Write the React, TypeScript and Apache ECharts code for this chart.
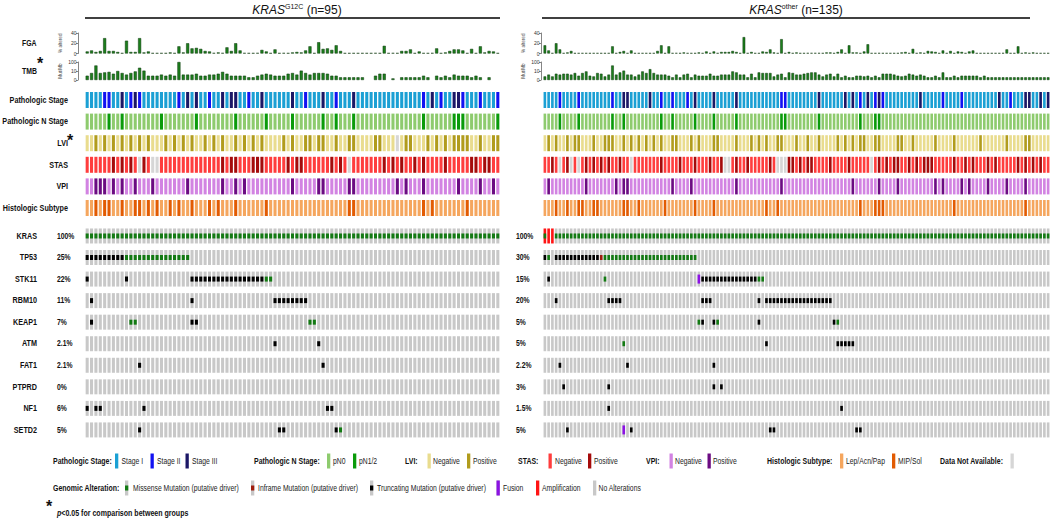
import { useEffect, useRef } from "react";
import * as echarts from "echarts";

const N_LEFT = 95;
const N_RIGHT = 135;

const TRACKS = ["Pathologic Stage", "Pathologic N Stage", "LVI", "STAS", "VPI", "Histologic Subtype"];
const GENES = ["KRAS", "TP53", "STK11", "RBM10", "KEAP1", "ATM", "FAT1", "PTPRD", "NF1", "SETD2"];
const PCT_LEFT = ["100%", "25%", "22%", "11%", "7%", "2.1%", "2.1%", "0%", "6%", "5%"];
const PCT_RIGHT = ["100%", "30%", "15%", "20%", "5%", "5%", "2.2%", "3%", "1.5%", "5%"];

// Fraction genome altered (%) per sample
const FGA_LEFT = [
  4, 6, 3, 5, 30, 5, 5, 3, 0.8, 25, 3, 3, 30, 2, 4, 0.8, 0.8, 0.8, 0.8, 2,
  0.8, 14, 2, 20, 10, 11, 9, 5, 4, 1, 2, 1, 12, 5, 20, 6, 1, 0.8, 0.8, 1,
  7, 4, 0.8, 8, 0.8, 1, 0.8, 2, 3, 2, 6, 14, 0.8, 22, 9, 10, 7, 16, 5, 0.8,
  0.8, 0.8, 0.8, 0.8, 0.8, 0.8, 1, 0.8, 15, 0.8, 1, 0.8, 5, 5, 8, 0.8, 4, 0.8, 0.8, 1,
  10, 0.8, 2, 5, 8, 8, 6, 0.8, 9, 0.8, 14, 2, 5, 4, 0.8,
];
// Tumour mutational burden (mut/Mb) per sample, null = not available
const TMB_LEFT = [
  2, 5, 40, 5, 6, 7, 4, 9, 5, 3, 5, 8, 22, 10, 2, 2, 2, 3, 2, 3,
  2, 99, 3, 3, 3, 4, 2, 2, 3, 3, 4, 7, 4, 2, 2, 2, 2, 1, 1, 2,
  3, 4, 3, 2, 2, 2, 4, 5, 3, 10, 5, 3, 5, 5, 5, 4, 2, 2, 1, 1,
  1, 1, 1, 1, null, null, 2, 4, 4, null, 0.5, null, 1, 1, 1, 1, 1, 2, 1, null,
  2, 1, 2, 1, 3, 2, 2, 2, 1, 2, 1, null, 1, null, null,
];
const FGA_RIGHT = [
  16, 6, 0.8, 20, 8, 0.8, 2, 5, 0.8, 0.8, 0.8, 0.8, 0.8, 0.8, 0.8, 0.8, 0.8, 0.8, 14, 0.8,
  3, 5, 0.8, 6, 0.8, 0.8, 0.8, 0.8, 0.8, 0.8, 5, 16, 0.8, 14, 0.8, 1, 0.8, 2, 0.8, 0.8,
  0.8, 2, 0.8, 4, 0.8, 4, 0.8, 3, 3, 3, 5, 3, 0.8, 32, 0.8, 3, 0.8, 0.8, 4, 3,
  8, 2, 0.8, 28, 0.8, 3, 0.8, 2, 0.8, 0.8, 1, 1, 1, 1, 0.8, 2, 2, 0.8, 3, 8,
  0.8, 16, 2, 2, 0.8, 4, 18, 0.8, 0.8, 1, 0.8, 0.8, 0.8, 0.8, 0.8, 2, 3, 0.8, 9, 0.8,
  2, 0.8, 5, 4, 3, 0.8, 6, 0.8, 5, 0.8, 4, 3, 0.8, 4, 6, 0.8, 0.8, 0.8, 0.8, 0.8,
  0.8, 0.8, 1, 8, 0.8, 0.8, 14, 0.8, 2, 0.8, 2, 0.8, 0.8, 0.8, 0.8,
];
const TMB_RIGHT = [
  1.5, 3, 1.5, 4, 3, 4, 4, 3, 5, 2, 5, 8, 2, 1.5, 5, 4, 1.5, 3, 40, 3,
  6, 10, 3, 3, 1.5, 3, 8, 5, 15, 5, 3, 3, 3, 2, 1, 3, 1, 3, 4, 1,
  3, 2, 2, 2, 4, 2, 2, 3, 3, 3, 8, 6, 3, 3, 1, 4, 1, 6, 5, 5,
  5, 1.5, 3, 4, 1, 6, 5, 3, 3, 4, 5, 6, 6, 3, 1.5, 3, 4, 1.5, 4, 1,
  2, 1, 1, 2, 2, 1.5, 2, 1, 2, 1, 4, 4, 4, 3, 2, 1.5, 2, 4, 3, 2,
  3, 2, 1, 1, 2, 1, 6, 1, 1, 2, 1, 2, 2, 2, 2, 2, 1, 2, 1, 1,
  1, 1, 1, 1, 1, 1, 1, 1, 1, 1, 1, 1, 1, 1, 1,
];

// Clinical tracks: sample indices of non-baseline categories
const STAGE2_LEFT = [4, 5, 10, 12, 21, 28, 37, 50, 57, 77, 81, 86, 90, 94];
const STAGE3_LEFT = [8, 11, 23, 25, 31, 33, 34, 40, 47, 54, 61, 79, 84, 85];
const NPOS_LEFT = [5, 8, 17, 25, 34, 41, 47, 54, 57, 61, 77, 84, 85, 86, 94];
const LVI_POS_LEFT = [2, 4, 6, 8, 10, 12, 14, 18, 20, 22, 24, 27, 29, 31, 34, 36, 38, 40, 45, 47, 50, 51, 53, 54, 57, 60, 61, 66, 67, 73, 74, 78, 80, 82, 84, 85, 86, 87, 90, 93, 94];
const LVI_NA_LEFT = [71];
const STAS_POS_LEFT = [6, 8, 10, 13, 31, 33, 34, 38, 39, 40, 46, 48, 49, 56, 58, 68, 70, 72, 75, 77, 82, 88, 89, 91, 92];
const STAS_NA_LEFT = [12, 15, 16, 60];
const VPI_POS_LEFT = [2, 3, 4, 6, 8, 11, 15, 23, 31, 34, 36, 47, 53, 54, 60, 61, 71, 73, 77, 85, 90, 93];
const HIST_POS_LEFT = [2, 4, 5, 8, 11, 12, 14, 16, 19, 21, 24, 28, 30, 34, 41, 60, 61, 77, 79, 87];

const STAGE2_RIGHT = [4, 9, 18, 31, 34, 38, 63, 64, 84, 88, 90, 106, 111, 124];
const STAGE3_RIGHT = [21, 22, 28, 40, 45, 51, 73, 80, 82, 86, 89, 100, 121, 128, 129, 132, 134];
const NPOS_RIGHT = [4, 9, 18, 21, 31, 34, 40, 45, 51, 63, 64, 73, 84, 88, 89];
const LVI_POS_RIGHT = [1, 3, 6, 8, 9, 13, 16, 17, 18, 21, 23, 25, 27, 29, 31, 34, 35, 39, 41, 45, 46, 51, 55, 57, 59, 62, 63, 67, 70, 73, 78, 80, 82, 84, 85, 88, 89, 94, 95, 98, 104, 109, 116, 123, 128, 129];
const STAS_POS_RIGHT = [2, 6, 11, 13, 15, 17, 20, 31, 36, 40, 44, 47, 51, 54, 60, 65, 66, 68, 70, 71, 76, 81, 89, 91, 93, 94, 97, 99, 101, 102, 103, 109, 112, 114, 118, 120, 126, 128, 130, 132];
const STAS_NA_RIGHT = [4, 7, 9, 23, 48, 49, 62, 63, 64, 87];
const VPI_POS_RIGHT = [1, 11, 19, 21, 22, 34, 39, 51, 63, 82, 89, 94, 104, 106, 111, 113, 118, 123, 128];
const HIST_POS_RIGHT = [3, 6, 9, 10, 13, 14, 21, 22, 25, 32, 40, 45, 59, 62, 84, 88, 89, 90, 109, 128];

const run = (a: number, b: number) => {
  const r: number[] = [];
  for (let i = a; i <= b; i++) r.push(i);
  return r;
};

type Alt = { mis?: number[]; inf?: number[]; trunc?: number[]; fus?: number[]; amp?: number[] };

const ALT_LEFT: Alt[] = [
  { mis: run(0, 94) },
  { trunc: run(0, 8), mis: run(9, 23) },
  { trunc: [0, 9, ...run(24, 40)], mis: [41, 42] },
  { trunc: [1, 24, ...run(43, 50)] },
  { trunc: [1, 24, 25], mis: [10, 11, 51, 52] },
  { trunc: [43, 53] },
  { trunc: [12, 54] },
  {},
  { trunc: [0, 2, 3, 13, 55, 56] },
  { trunc: [12, 44, 45, 57], mis: [58] },
];
const ALT_RIGHT: Alt[] = [
  { mis: [0, ...run(3, 134)], amp: [0, 1, 2] },
  { trunc: [0, ...run(3, 14)], mis: [1, ...run(16, 40)], inf: [15] },
  { trunc: [1, ...run(42, 56)], mis: [16, 57, 58], fus: [41] },
  { trunc: [3, 17, 18, 19, 20, 42, 43, 44, 57, ...run(59, 76)] },
  { trunc: [42, 45, 57, 77], mis: [41, 46, 78] },
  { trunc: [59, ...run(78, 82)], mis: [21] },
  { trunc: [4, 22, 45] },
  { trunc: [5, 17, 45, 47] },
  { trunc: [17, 79] },
  { trunc: [6, 23, 60, 61, 83, 84], fus: [21] },
];

const CLIN_COLORS = [
  ["#1ba0d4", "#1212f2", "#1b1766"],
  ["#8ecb6e", "#0a9b0a"],
  ["#e9dc8e", "#b19c1d"],
  ["#ff3d3d", "#a50b0b"],
  ["#d283e2", "#6b0b82"],
  ["#f5a65e", "#e25b02"],
];
const NA_COLOR = "#d6d6d6";
const GRAY = "#c8c8c8";
const ALT_COLORS: Record<number, string> = { 1: "#137a13", 2: "#9e1d0d", 3: "#000000", 4: "#8b12e3" };
const AMP_COLOR = "#ff1414";
const BAR_COLOR = "#1c7f1c";

const FONT = "'Liberation Sans', Arial, sans-serif";
const NARROW = 0.82;

function clinCodes(n: number, pos: number[], pos2: number[] = [], na: number[] = []) {
  const a = new Array(n).fill(0);
  pos.forEach((i) => (a[i] = 1));
  pos2.forEach((i) => (a[i] = 2));
  na.forEach((i) => (a[i] = 9));
  return a;
}

function geneCodes(n: number, alt: Alt) {
  const a = new Array(n).fill(0);
  (alt.mis || []).forEach((i) => (a[i] = 1));
  (alt.inf || []).forEach((i) => (a[i] = 2));
  (alt.trunc || []).forEach((i) => (a[i] = 3));
  (alt.fus || []).forEach((i) => (a[i] = 4));
  (alt.amp || []).forEach((i) => (a[i] = a[i] === 1 ? 6 : 5));
  return a;
}

function cellData(n: number, tracks: number[][]) {
  const d: number[][] = [];
  tracks.forEach((codes, t) => codes.forEach((c, i) => d.push([i, t, c])));
  return d;
}

const CLIN_LEFT = [
  clinCodes(N_LEFT, STAGE2_LEFT, STAGE3_LEFT),
  clinCodes(N_LEFT, NPOS_LEFT),
  clinCodes(N_LEFT, LVI_POS_LEFT, [], LVI_NA_LEFT),
  clinCodes(N_LEFT, STAS_POS_LEFT, [], STAS_NA_LEFT),
  clinCodes(N_LEFT, VPI_POS_LEFT),
  clinCodes(N_LEFT, HIST_POS_LEFT),
];
const CLIN_RIGHT = [
  clinCodes(N_RIGHT, STAGE2_RIGHT, STAGE3_RIGHT),
  clinCodes(N_RIGHT, NPOS_RIGHT),
  clinCodes(N_RIGHT, LVI_POS_RIGHT),
  clinCodes(N_RIGHT, STAS_POS_RIGHT, [], STAS_NA_RIGHT),
  clinCodes(N_RIGHT, VPI_POS_RIGHT),
  clinCodes(N_RIGHT, HIST_POS_RIGHT),
];

const clinRender = (_p: any, api: any) => {
  const i = api.value(0), t = api.value(1), code = api.value(2);
  const c = api.coord([i, t]);
  const s = api.size([1, 1]);
  const w = s[0] * 0.7, h = 16;
  const fill = code === 9 ? NA_COLOR : CLIN_COLORS[t][code];
  return { type: "rect", shape: { x: c[0] - w / 2, y: c[1] - h / 2, width: w, height: h }, style: { fill } };
};

const geneRender = (_p: any, api: any) => {
  const i = api.value(0), g = api.value(1), code = api.value(2);
  const c = api.coord([i, g]);
  const s = api.size([1, 1]);
  const w = s[0] * 0.7, h = 15;
  const x0 = c[0] - w / 2, y0 = c[1] - h / 2;
  const children: any[] = [
    { type: "rect", shape: { x: x0, y: y0, width: w, height: h }, style: { fill: code >= 5 ? AMP_COLOR : GRAY } },
  ];
  if (code === 1 || code === 2 || code === 3 || code === 6) {
    const col = ALT_COLORS[code === 6 ? 1 : code];
    children.push({ type: "rect", shape: { x: x0, y: c[1] - h / 6, width: w, height: h / 3 }, style: { fill: col } });
  } else if (code === 4) {
    children.push({ type: "rect", shape: { x: x0, y: c[1] - h * 0.3, width: w, height: h * 0.6 }, style: { fill: ALT_COLORS[4] } });
  }
  return { type: "group", children };
};

function text(x: number, y: number, t: string, o: any = {}, sx = NARROW) {
  return {
    type: "text",
    silent: true,
    x, y, scaleX: sx,
    style: {
      x: 0, y: 0, text: t,
      fontFamily: FONT, fontSize: 8.8, fontWeight: "bold", fill: "#111",
      align: "left", verticalAlign: "middle", textAlign: "left", textVerticalAlign: "middle",
      ...o,
    },
  };
}
function swatch(x: number, y: number, fill: string, inner?: string, innerH = 5) {
  const els: any[] = [{ type: "rect", silent: true, shape: { x, y: y - 7.5, width: 3.3, height: 15 }, style: { fill } }];
  if (inner) els.push({ type: "rect", silent: true, shape: { x, y: y - innerH / 2, width: 3.3, height: innerH }, style: { fill: inner } });
  return els;
}

function buildOption() {
  const P = [
    { left: 85, width: 415, n: N_LEFT, fga: FGA_LEFT, tmb: TMB_LEFT, clin: CLIN_LEFT, alt: ALT_LEFT, off: 7 },
    { left: 543, width: 507, n: N_RIGHT, fga: FGA_RIGHT, tmb: TMB_RIGHT, clin: CLIN_RIGHT, alt: ALT_RIGHT, off: 2 },
  ];
  const grid: any[] = [], xAxis: any[] = [], yAxis: any[] = [], series: any[] = [];
  const axLabel = { fontSize: 5, margin: 1.5, color: "#333", fontFamily: FONT };
  P.forEach((p, k) => {
    const cats = Array.from({ length: p.n }, (_, i) => String(i));
    const tops = [
      [33, 20.5],
      [62, 18],
      [89.2, 129.6],
      [225.2, 215.5],
    ];
    tops.forEach(([top, height], j) => {
      const gi = k * 4 + j;
      grid.push({ left: p.left, width: p.width, top, height });
      xAxis.push({ type: "category", gridIndex: gi, data: cats, show: false });
    });
    const common = {
      type: "value", offset: p.off, axisLine: { show: true, lineStyle: { color: "#333", width: 0.6 } },
      axisTick: { show: true, length: 2, lineStyle: { color: "#333", width: 0.6 } },
      splitLine: { show: false }, nameLocation: "middle", nameRotate: 90, nameGap: 15,
      nameTextStyle: { fontSize: 4.6, color: "#444", fontFamily: FONT },
    };
    yAxis.push({ ...common, gridIndex: k * 4, min: 0, max: 40, interval: 20, name: "% altered", axisLabel: axLabel });
    yAxis.push({
      ...common, gridIndex: k * 4 + 1, min: 0, max: 2, interval: 1, name: "Mut/Mb",
      axisLabel: { ...axLabel, formatter: (v: number) => (v === 0 ? "0" : v === 1 ? "10" : "100") },
    });
    yAxis.push({ type: "category", gridIndex: k * 4 + 2, data: TRACKS, inverse: true, show: false });
    yAxis.push({ type: "category", gridIndex: k * 4 + 3, data: GENES, inverse: true, show: false });

    const barStyle = { color: BAR_COLOR, borderColor: "#0a350a", borderWidth: 0.5 };
    series.push({ type: "bar", xAxisIndex: k * 4, yAxisIndex: k * 4, data: p.fga, barWidth: "70%", itemStyle: barStyle, silent: true });
    series.push({
      type: "bar", xAxisIndex: k * 4 + 1, yAxisIndex: k * 4 + 1, barWidth: "70%", itemStyle: barStyle, silent: true,
      data: p.tmb.map((v) => (v == null ? null : Math.log10(v + 1))),
    });
    series.push({
      type: "custom", xAxisIndex: k * 4 + 2, yAxisIndex: k * 4 + 2, renderItem: clinRender, silent: true,
      data: cellData(p.n, p.clin),
    });
    series.push({
      type: "custom", xAxisIndex: k * 4 + 3, yAxisIndex: k * 4 + 3, renderItem: geneRender, silent: true,
      data: cellData(p.n, p.alt.map((a) => geneCodes(p.n, a))),
    });
  });

  const g: any[] = [];
  const titleRich = {
    i: { fontStyle: "italic", fontSize: 12, fontFamily: FONT, lineHeight: 14, fill: "#111" },
    s: { fontSize: 7, fontFamily: FONT, lineHeight: 8, verticalAlign: "top", fill: "#111" },
    n: { fontSize: 12, fontFamily: FONT, lineHeight: 14, fill: "#111" },
  };
  g.push({ type: "text", silent: true, style: { x: 297, y: 10, text: "{i|KRAS}{s|G12C}{n| (n=95)}", rich: titleRich, align: "center", verticalAlign: "middle", textAlign: "center", textVerticalAlign: "middle" } });
  g.push({ type: "text", silent: true, style: { x: 796, y: 10, text: "{i|KRAS}{s|other}{n| (n=135)}", rich: titleRich, align: "center", verticalAlign: "middle", textAlign: "center", textVerticalAlign: "middle" } });
  g.push({ type: "line", silent: true, shape: { x1: 85, y1: 18, x2: 500, y2: 18 }, style: { stroke: "#000", lineWidth: 1.4 } });
  g.push({ type: "line", silent: true, shape: { x1: 542, y1: 18, x2: 1030, y2: 18 }, style: { stroke: "#000", lineWidth: 1.4 } });

  g.push(text(22, 43.5, "FGA", { fontSize: 8.4 }));
  g.push(text(22, 71.5, "TMB", { fontSize: 8.4 }));
  g.push(text(37, 63, "*", { fontSize: 16 }, 1));
  const clinY = [100, 121.6, 143.2, 164.8, 186.4, 208];
  TRACKS.forEach((t, j) => g.push(text(68, clinY[j], t, { align: "right", textAlign: "right" })));
  g.push(text(67, 140, "*", { fontSize: 16 }, 1));
  GENES.forEach((gn, j) => {
    const y = 236 + j * 21.55;
    g.push(text(37, y, gn, { align: "right", textAlign: "right" }));
    g.push(text(57, y, PCT_LEFT[j], { fontSize: 8.3 }));
    g.push(text(516, y, PCT_RIGHT[j], { fontSize: 8.3 }));
  });

  // legend row 1
  const y1 = 461, y2 = 488;
  const reg = { fontWeight: "normal", fontSize: 8.3, fill: "#222" };
  const hd = { fontSize: 8.5 };
  g.push(text(53, y1, "Pathologic Stage:", hd));
  g.push(...swatch(115, y1, CLIN_COLORS[0][0]), text(121.5, y1, "Stage I", reg));
  g.push(...swatch(150.5, y1, CLIN_COLORS[0][1]), text(157, y1, "Stage II", reg));
  g.push(...swatch(185.5, y1, CLIN_COLORS[0][2]), text(192, y1, "Stage III", reg));
  g.push(text(254, y1, "Pathologic N Stage:", hd));
  g.push(...swatch(327, y1, CLIN_COLORS[1][0]), text(333, y1, "pN0", reg));
  g.push(...swatch(353, y1, CLIN_COLORS[1][1]), text(359, y1, "pN1/2", reg));
  g.push(text(405, y1, "LVI:", hd));
  g.push(...swatch(427.5, y1, CLIN_COLORS[2][0]), text(433, y1, "Negative", reg));
  g.push(...swatch(467, y1, CLIN_COLORS[2][1]), text(473, y1, "Positive", reg));
  g.push(text(518, y1, "STAS:", hd));
  g.push(...swatch(548.5, y1, CLIN_COLORS[3][0]), text(555, y1, "Negative", reg));
  g.push(...swatch(588, y1, CLIN_COLORS[3][1]), text(594, y1, "Positive", reg));
  g.push(text(646, y1, "VPI:", hd));
  g.push(...swatch(669.5, y1, CLIN_COLORS[4][0]), text(675, y1, "Negative", reg));
  g.push(...swatch(707.5, y1, CLIN_COLORS[4][1]), text(713, y1, "Positive", reg));
  g.push(text(767, y1, "Histologic Subtype:", hd));
  g.push(...swatch(840, y1, CLIN_COLORS[5][0]), text(846, y1, "Lep/Acn/Pap", reg));
  g.push(...swatch(892, y1, CLIN_COLORS[5][1]), text(898, y1, "MIP/Sol", reg));
  g.push(text(940, y1, "Data Not Available:", hd));
  g.push(...swatch(1010.5, y1, NA_COLOR));

  // legend row 2
  g.push(text(53, y2, "Genomic Alteration:", hd));
  g.push(...swatch(125, y2, GRAY, ALT_COLORS[1]), text(133, y2, "Missense Mutation (putative driver)", reg));
  g.push(...swatch(251, y2, GRAY, ALT_COLORS[2]), text(258, y2, "Inframe Mutation (putative driver)", reg));
  g.push(...swatch(370, y2, GRAY, ALT_COLORS[3]), text(377, y2, "Truncating Mutation (putative driver)", reg));
  g.push(...swatch(496.5, y2, GRAY, ALT_COLORS[4], 15), text(503, y2, "Fusion", reg));
  g.push(...swatch(536, y2, AMP_COLOR), text(542, y2, "Amplification", reg));
  g.push(...swatch(593, y2, GRAY), text(598.5, y2, "No Alterations", reg));

  g.push(text(46, 506, "*", { fontSize: 16 }, 1));
  g.push({
    type: "text", silent: true, x: 57, y: 513.5, scaleX: NARROW,
    style: {
      x: 0, y: 0, text: "{p|p}{t|<0.05 for comparison between groups}",
      rich: {
        p: { fontStyle: "italic", fontWeight: "bold", fontSize: 8.6, fontFamily: FONT, fill: "#111" },
        t: { fontWeight: "bold", fontSize: 8.6, fontFamily: FONT, fill: "#111" },
      },
      align: "left", verticalAlign: "middle", textAlign: "left", textVerticalAlign: "middle",
    },
  });

  return { animation: false, backgroundColor: "#fff", grid, xAxis, yAxis, series, graphic: { elements: g } };
}

export default function App() {
  const ref = useRef<HTMLDivElement>(null);
  useEffect(() => {
    document.body.style.margin = "0";
    if (!ref.current) return;
    const chart = echarts.init(ref.current, undefined, { renderer: "svg" });
    chart.setOption(buildOption() as any);
    return () => chart.dispose();
  }, []);
  return <div ref={ref} style={{ position: "absolute", left: 0, top: 0, width: 1050, height: 518 }} />;
}
